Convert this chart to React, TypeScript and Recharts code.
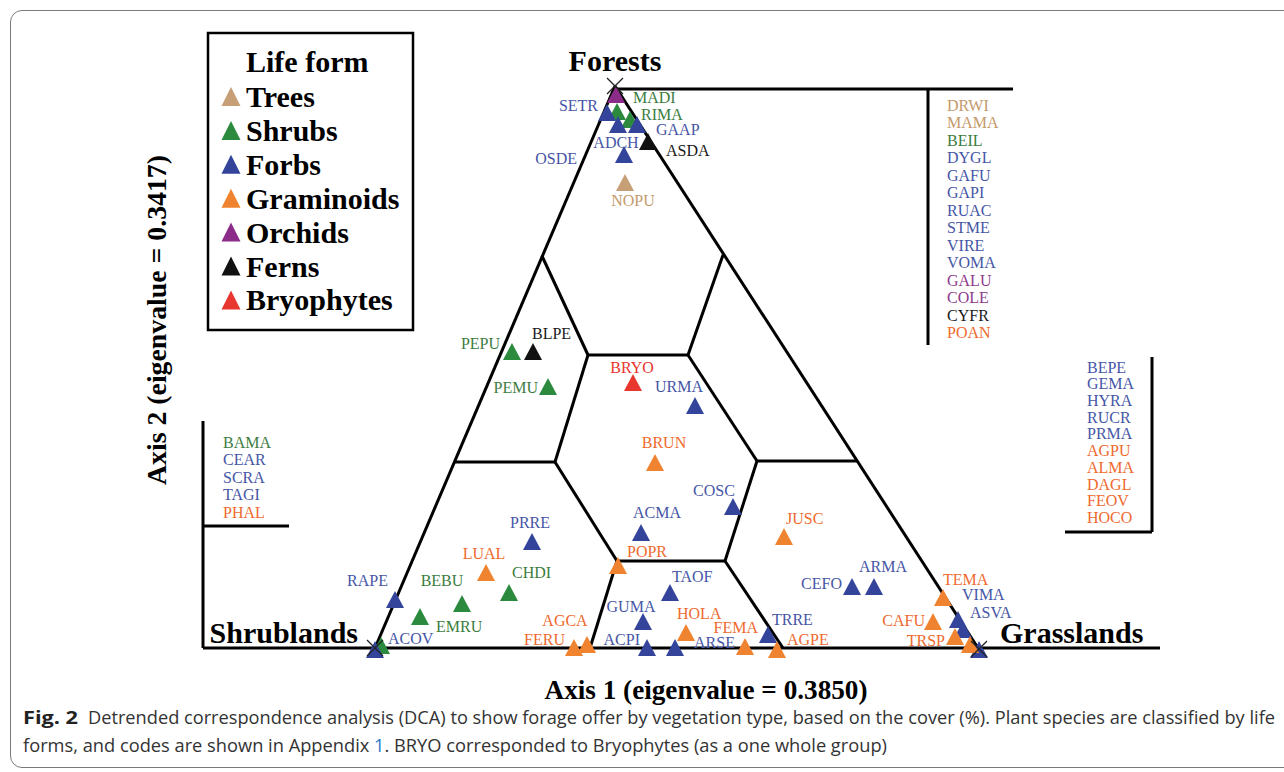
import React from "react";
import {
  ScatterChart,
  Scatter,
  XAxis,
  YAxis,
  ReferenceLine,
  ReferenceDot,
} from "recharts";

type Form =
  | "Trees"
  | "Shrubs"
  | "Forbs"
  | "Graminoids"
  | "Orchids"
  | "Ferns"
  | "Bryophytes";
type Pt = { code: string; x: number; y: number };

const lifeForms: Form[] = [
  "Trees",
  "Shrubs",
  "Forbs",
  "Graminoids",
  "Orchids",
  "Ferns",
  "Bryophytes",
];

// species scores on DCA axis 1 (x) and axis 2 (y)
const trees: Pt[] = [{ code: "NOPU", x: 44.2, y: 48.2 }];
const shrubs: Pt[] = [
  { code: "MADI", x: 43.4, y: 55.3 },
  { code: "RIMA", x: 44.7, y: 54.5 },
  { code: "PEPU", x: 32.9, y: 31.3 },
  { code: "PEMU", x: 36.5, y: 27.8 },
  { code: "BEBU", x: 27.9, y: 6.1 },
  { code: "CHDI", x: 32.6, y: 7.2 },
  { code: "EMRU", x: 23.7, y: 4.8 },
  { code: "", x: 19.8, y: 1.9 },
];
const forbs: Pt[] = [
  { code: "SETR", x: 42.4, y: 55.2 },
  { code: "OSDE", x: 43.5, y: 54.0 },
  { code: "GAAP", x: 45.4, y: 54.0 },
  { code: "ADCH", x: 44.1, y: 51.0 },
  { code: "URMA", x: 51.2, y: 25.9 },
  { code: "COSC", x: 55.0, y: 15.8 },
  { code: "ACMA", x: 45.8, y: 13.2 },
  { code: "PRRE", x: 34.9, y: 12.3 },
  { code: "RAPE", x: 21.2, y: 6.5 },
  { code: "GUMA", x: 46.0, y: 4.3 },
  { code: "ACPI", x: 46.4, y: 1.7 },
  { code: "TAOF", x: 48.7, y: 7.2 },
  { code: "ARSE", x: 49.2, y: 1.7 },
  { code: "TRRE", x: 58.5, y: 3.0 },
  { code: "CEFO", x: 66.9, y: 7.8 },
  { code: "ARMA", x: 69.1, y: 7.8 },
  { code: "VIMA", x: 77.5, y: 4.5 },
  { code: "ASVA", x: 78.0, y: 3.5 },
  { code: "ACOV", x: 19.2, y: 1.5 },
  { code: "", x: 79.6, y: 1.5 },
];
const graminoids: Pt[] = [
  { code: "BRUN", x: 47.2, y: 20.2 },
  { code: "POPR", x: 43.5, y: 9.9 },
  { code: "LUAL", x: 30.3, y: 9.2 },
  { code: "JUSC", x: 60.1, y: 12.8 },
  { code: "AGCA", x: 40.4, y: 2.0 },
  { code: "FERU", x: 39.1, y: 1.7 },
  { code: "HOLA", x: 50.3, y: 3.2 },
  { code: "FEMA", x: 56.2, y: 1.8 },
  { code: "AGPE", x: 59.4, y: 1.5 },
  { code: "TEMA", x: 76.0, y: 6.7 },
  { code: "CAFU", x: 75.0, y: 4.3 },
  { code: "TRSP", x: 77.2, y: 2.8 },
  { code: "", x: 78.7, y: 2.0 },
];
const orchids: Pt[] = [{ code: "", x: 43.3, y: 57.0 }];
const ferns: Pt[] = [
  { code: "ASDA", x: 46.5, y: 52.3 },
  { code: "BLPE", x: 35.0, y: 31.3 },
];
const bryophytes: Pt[] = [{ code: "BRYO", x: 45.0, y: 28.2 }];

// species found only in one vegetation type (listed beside the triangle)
const forestOnly: [string, Form][] = [
  ["DRWI", "Trees"],
  ["MAMA", "Trees"],
  ["BEIL", "Shrubs"],
  ["DYGL", "Forbs"],
  ["GAFU", "Forbs"],
  ["GAPI", "Forbs"],
  ["RUAC", "Forbs"],
  ["STME", "Forbs"],
  ["VIRE", "Forbs"],
  ["VOMA", "Forbs"],
  ["GALU", "Orchids"],
  ["COLE", "Orchids"],
  ["CYFR", "Ferns"],
  ["POAN", "Graminoids"],
];
const grasslandOnly: [string, Form][] = [
  ["BEPE", "Forbs"],
  ["GEMA", "Forbs"],
  ["HYRA", "Forbs"],
  ["RUCR", "Forbs"],
  ["PRMA", "Forbs"],
  ["AGPU", "Graminoids"],
  ["ALMA", "Graminoids"],
  ["DAGL", "Graminoids"],
  ["FEOV", "Graminoids"],
  ["HOCO", "Graminoids"],
];
const shrublandOnly: [string, Form][] = [
  ["BAMA", "Shrubs"],
  ["CEAR", "Forbs"],
  ["SCRA", "Forbs"],
  ["TAGI", "Forbs"],
  ["PHAL", "Graminoids"],
];

// triangle of vegetation types and its partition
const vertices = [
  { name: "Forests", x: 43.2, y: 57.9 },
  { name: "Shrublands", x: 19.2, y: 1.7 },
  { name: "Grasslands", x: 79.6, y: 1.6 },
];
const hexagon: [number, number][] = [
  [40.5, 31.0],
  [50.5, 31.0],
  [57.4, 20.4],
  [54.2, 10.4],
  [43.4, 10.4],
  [37.2, 20.3],
];
const spokes: [number, number, number, number][] = [
  [40.5, 31.0, 35.9, 40.9],
  [50.5, 31.0, 54.0, 41.0],
  [37.2, 20.3, 27.1, 20.3],
  [57.4, 20.4, 67.4, 20.4],
  [43.4, 10.4, 40.7, 1.7],
  [54.2, 10.4, 60.0, 1.7],
];
const frameLines: [number, number, number, number][] = [
  [19.2, 1.7, 43.2, 57.9],
  [43.2, 57.9, 79.5, 1.7],
  [2.0, 1.7, 97.7, 1.7],
  [43.2, 57.6, 83.0, 57.6],
  [74.5, 57.6, 74.5, 32.0],
  [96.9, 30.8, 96.9, 13.3],
  [88.2, 13.3, 96.9, 13.3],
  [2.0, 24.4, 2.0, 1.7],
  [2.0, 13.9, 10.6, 13.9],
];

const markerColor: Record<Form, string> = {
  Trees: "#C79F76",
  Shrubs: "#2B8A3E",
  Forbs: "#33449A",
  Graminoids: "#F0832F",
  Orchids: "#8C2C89",
  Ferns: "#111111",
  Bryophytes: "#E8372F",
};
const textColor: Record<Form, string> = {
  Trees: "#C49A6C",
  Shrubs: "#3C7D40",
  Forbs: "#4656A6",
  Graminoids: "#EE6A2E",
  Orchids: "#8E3A8C",
  Ferns: "#1a1a1a",
  Bryophytes: "#E8342E",
};

// label offset from marker (px) and anchor
const labelAt: Record<string, [number, number, "start" | "middle" | "end"]> = {
  SETR: [-9, -8, "end"],
  MADI: [16, -15, "start"],
  RIMA: [11, -6, "start"],
  GAAP: [19, 4, "start"],
  ASDA: [18, 8, "start"],
  ADCH: [-8, -13, "middle"],
  OSDE: [-41, 33, "end"],
  NOPU: [8, 17, "middle"],
  PEPU: [-12, -9, "end"],
  BLPE: [-1, -19, "start"],
  PEMU: [-10, 0, "end"],
  BRYO: [-1, -16, "middle"],
  URMA: [-16, -20, "middle"],
  BRUN: [9, -21, "middle"],
  COSC: [-19, -17, "middle"],
  ACMA: [16, -21, "middle"],
  PRRE: [-2, -20, "middle"],
  POPR: [9, -15, "start"],
  LUAL: [-2, -20, "middle"],
  CHDI: [3, -21, "start"],
  BEBU: [-20, -24, "middle"],
  EMRU: [16, 9, "start"],
  RAPE: [-7, -20, "end"],
  ACOV: [13, -12, "start"],
  AGCA: [-22, -25, "middle"],
  FERU: [-9, -9, "end"],
  ACPI: [-7, -9, "end"],
  GUMA: [-12, -16, "middle"],
  TAOF: [2, -17, "start"],
  HOLA: [-9, -20, "start"],
  ARSE: [19, -6, "start"],
  FEMA: [13, -20, "end"],
  TRRE: [4, -16, "start"],
  AGPE: [10, -11, "start"],
  CEFO: [-10, -4, "end"],
  ARMA: [9, -21, "middle"],
  JUSC: [2, -19, "start"],
  TEMA: [0, -19, "start"],
  VIMA: [4, -26, "start"],
  ASVA: [7, -18, "start"],
  CAFU: [-8, -2, "end"],
  TRSP: [-10, 3, "end"],
};
const vertexLabelAt: Record<string, [number, number, "start" | "middle" | "end"]> = {
  Forests: [0, -15, "middle"],
  Shrublands: [-17, -5, "end"],
  Grasslands: [21, -6, "start"],
};

const series: [Form, Pt[]][] = [
  ["Trees", trees],
  ["Shrubs", shrubs],
  ["Forbs", forbs],
  ["Graminoids", graminoids],
  ["Orchids", orchids],
  ["Ferns", ferns],
  ["Bryophytes", bryophytes],
];

const serif = "'Liberation Serif', 'Times New Roman', serif";

const makeMarker = (form: Form) => (props: any) => {
  const { cx, cy, payload } = props;
  const lab = labelAt[payload.code];
  return (
    <g>
      <polygon
        points={`${cx},${cy - 9} ${cx + 9},${cy + 8} ${cx - 9},${cy + 8}`}
        fill={markerColor[form]}
      />
      {lab && (
        <text
          x={cx + lab[0]}
          y={cy + lab[1]}
          dy="0.35em"
          textAnchor={lab[2]}
          fontFamily={serif}
          fontSize={16}
          fill={textColor[form]}
        >
          {payload.code}
        </text>
      )}
    </g>
  );
};

const vertexMark = (name: string) => (props: any) => {
  const { cx, cy } = props;
  const lab = vertexLabelAt[name];
  return (
    <g>
      <path
        d={`M${cx - 8},${cy - 8}L${cx + 8},${cy + 8}M${cx + 8},${cy - 8}L${cx - 8},${cy + 8}`}
        stroke="#222"
        strokeWidth={1.3}
      />
      <text
        x={cx + lab[0]}
        y={cy + lab[1]}
        textAnchor={lab[2]}
        fontFamily={serif}
        fontWeight="bold"
        fontSize={30}
        fill="#000"
      >
        {name}
      </text>
    </g>
  );
};

function SideList({ items, x, y, step }: { items: [string, Form][]; x: number; y: number; step: number }) {
  return (
    <g>
      {items.map(([code, form], i) => (
        <text
          key={code}
          x={x}
          y={y + i * step}
          dy="0.35em"
          fontFamily={serif}
          fontSize={16}
          fill={textColor[form]}
        >
          {code}
        </text>
      ))}
    </g>
  );
}

export default function App() {
  const segs = [
    ...frameLines,
    ...spokes,
    ...hexagon.map((p, i) => {
      const q = hexagon[(i + 1) % hexagon.length];
      return [p[0], p[1], q[0], q[1]] as [number, number, number, number];
    }),
  ];

  return (
    <div
      style={{
        position: "absolute",
        left: 0,
        top: 0,
        width: 1284,
        height: 772,
        overflow: "hidden",
        background: "#fff",
      }}
    >
      {/* figure frame */}
      <div
        style={{
          position: "absolute",
          left: 10,
          top: 10,
          width: 1300,
          height: 758,
          border: "1.5px solid #7a7a7a",
          borderRadius: 12,
          boxSizing: "border-box",
        }}
      />

      <div style={{ position: "absolute", left: 0, top: 0 }}>
        <ScatterChart
          width={1284}
          height={700}
          margin={{ top: 28, right: 121, bottom: 35, left: 183 }}
        >
          <XAxis
            type="number"
            dataKey="x"
            domain={[0, 98]}
            allowDataOverflow
            height={0}
            tick={false}
            tickLine={false}
            axisLine={{ stroke: "#000", strokeWidth: 5 }}
          />
          <YAxis
            type="number"
            dataKey="y"
            domain={[0, 63.7]}
            allowDataOverflow
            width={0}
            tick={false}
            tickLine={false}
            axisLine={{ stroke: "#000", strokeWidth: 5 }}
          />
          {segs.map((s, i) => (
            <ReferenceLine
              key={`seg${i}`}
              segment={[
                { x: s[0], y: s[1] },
                { x: s[2], y: s[3] },
              ]}
              stroke="#000"
              strokeWidth={3}
              ifOverflow="visible"
            />
          ))}
          {series.map(([form, data]) => (
            <Scatter
              key={form}
              name={form}
              data={data}
              isAnimationActive={false}
              shape={makeMarker(form)}
            />
          ))}
          {vertices.map((v) => (
            <ReferenceDot
              key={v.name}
              x={v.x}
              y={v.y}
              r={8}
              ifOverflow="visible"
              shape={vertexMark(v.name)}
            />
          ))}
        </ScatterChart>
      </div>

      <svg
        width={1284}
        height={772}
        style={{ position: "absolute", left: 0, top: 0, pointerEvents: "none" }}
      >
        {/* legend */}
        <rect x={208} y={33} width={205} height={297} fill="#fff" stroke="#000" strokeWidth={2.5} />
        <text x={246} y={72} fontFamily={serif} fontWeight="bold" fontSize={30} fill="#000">
          Life form
        </text>
        {lifeForms.map((f, i) => {
          const b = 107 + i * 33.9;
          return (
            <g key={f}>
              <polygon
                points={`231,${b - 20} 240.5,${b - 1} 221.5,${b - 1}`}
                fill={markerColor[f]}
              />
              <text x={246} y={b} fontFamily={serif} fontWeight="bold" fontSize={30} fill="#000">
                {f}
              </text>
            </g>
          );
        })}

        <SideList items={forestOnly} x={947} y={105} step={17.5} />
        <SideList items={grasslandOnly} x={1087} y={367} step={16.7} />
        <SideList items={shrublandOnly} x={223} y={442} step={17.5} />

        {/* axis titles */}
        <text
          x={706}
          y={699}
          textAnchor="middle"
          fontFamily={serif}
          fontWeight="bold"
          fontSize={27}
          textLength={323}
          lengthAdjust="spacingAndGlyphs"
        >
          Axis 1 (eigenvalue = 0.3850)
        </text>
        <text
          transform="translate(166,320) rotate(-90)"
          x={0}
          y={0}
          textAnchor="middle"
          fontFamily={serif}
          fontWeight="bold"
          fontSize={27}
          textLength={330}
          lengthAdjust="spacingAndGlyphs"
        >
          Axis 2 (eigenvalue = 0.3417)
        </text>

        {/* caption */}
        <text x={23} y={724} fontFamily="'Open Sans', 'Noto Sans', sans-serif" fontWeight="bold" fontSize={18} fill="#222" textLength={55} lengthAdjust="spacingAndGlyphs">
          Fig. 2
        </text>
        <text x={88} y={724} fontFamily="'Open Sans', 'Noto Sans', sans-serif" fontSize={18} fill="#333" textLength={1187} lengthAdjust="spacingAndGlyphs">
          Detrended correspondence analysis (DCA) to show forage offer by vegetation type, based on the cover (%). Plant species are classified by life
        </text>
        <text x={23} y={752} fontFamily="'Open Sans', 'Noto Sans', sans-serif" fontSize={18} fill="#333" textLength={864} lengthAdjust="spacingAndGlyphs">
          forms, and codes are shown in Appendix <tspan fill="#2b78c8">1</tspan>. BRYO corresponded to Bryophytes (as a one whole group)
        </text>
      </svg>
    </div>
  );
}
